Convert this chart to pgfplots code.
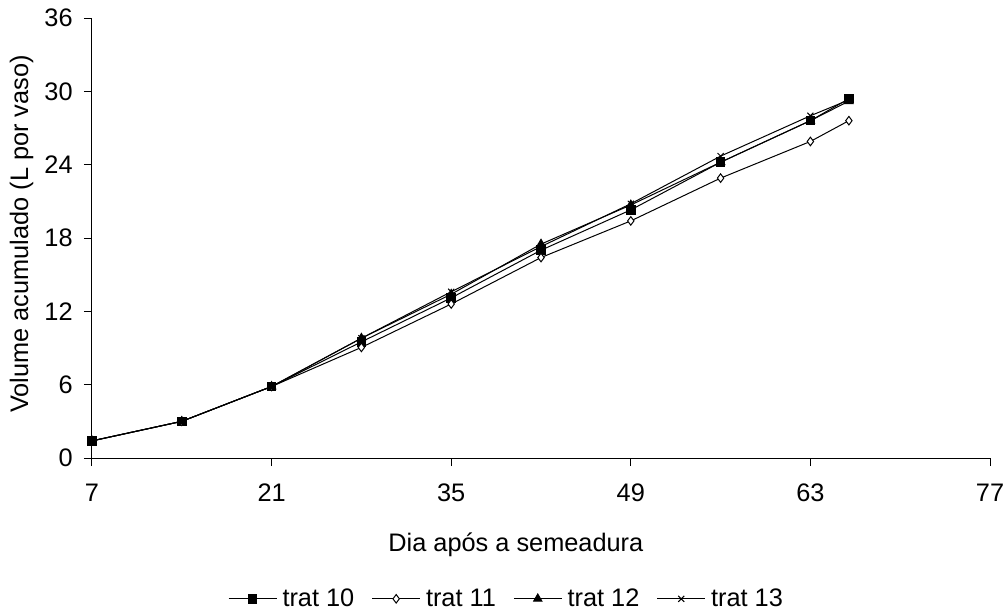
\documentclass[border=0pt]{standalone}
\usepackage{fontspec}
\setmainfont{Liberation Sans}
\usepackage{pgfplots}
\pgfplotsset{compat=1.18}
\begin{document}
\begin{tikzpicture}
\begin{axis}[
  scale only axis,
  width=673.5pt, height=330pt,
  xmin=7, xmax=77, ymin=0, ymax=36,
  xtick={7,21,35,49,63,77},
  ytick={0,6,12,18,24,30,36},
  axis lines=left,
  axis line style={-, line width=0.75pt},
  tick align=outside,
  major tick length=6pt,
  tick style={line width=0.75pt, black},
  /pgf/number format/assume math mode=true,
  tick label style={font=\fontsize{19}{22}\selectfont},
  yticklabel style={xshift=-5pt},
  xticklabel style={yshift=-10pt},
  xlabel={Dia após a semeadura},
  xlabel style={font=\fontsize{19}{22}\selectfont, at={(axis description cs:0.472,-0.197)}, anchor=center},
  ylabel={Volume acumulado (L por vaso)},
  ylabel style={font=\fontsize{19}{22}\selectfont, at={(axis description cs:-0.0785,0.509)}, anchor=center},
  legend columns=4,
  legend style={draw=none, at={(axis description cs:0.462,-0.32)}, anchor=center,
    font=\fontsize{19}{22}\selectfont, inner sep=0pt,
    /tikz/every odd column/.append style={column sep=2pt},
    /tikz/every even column/.append style={column sep=11pt}},
  legend image code/.code={\draw[mark repeat=2,mark phase=2] plot coordinates {(0pt,0pt)(18pt,0pt)(36pt,0pt)};},
  legend cell align=left,
  every axis plot/.append style={line width=0.75pt, black},
  clip=false,
]
\addplot[mark=square*, mark size=3.2pt, mark options={solid, fill=black}] coordinates {
(7,1.4)(14,3.0)(21,5.85)(28,9.5)(35,13.1)(42,17.0)(49,20.3)(56,24.2)(63,27.6)(66,29.4)};
\addlegendentry{trat 10}
\addplot[mark=diamond*, mark size=3.2pt, mark options={solid, fill=white}] coordinates {
(7,1.4)(14,3.0)(21,5.85)(28,9.05)(35,12.6)(42,16.4)(49,19.4)(56,22.9)(63,25.9)(66,27.6)};
\addlegendentry{trat 11}
\addplot[mark=triangle*, mark size=3.6pt, mark options={solid, fill=black}] coordinates {
(7,1.4)(14,3.0)(21,5.85)(28,9.8)(35,13.4)(42,17.5)(49,20.7)(56,24.2)(63,27.6)(66,29.2)};
\addlegendentry{trat 12}
\addplot[mark=x, mark size=3.2pt, mark options={solid}] coordinates {
(7,1.4)(14,3.0)(21,5.85)(28,9.8)(35,13.6)(42,17.3)(49,20.8)(56,24.7)(63,28.0)(66,29.3)};
\addlegendentry{trat 13}
\end{axis}
\pgfresetboundingbox
\path[use as bounding box] (-69pt,-114.75pt) rectangle (685.5pt,343.5pt);
\end{tikzpicture}
\end{document}
